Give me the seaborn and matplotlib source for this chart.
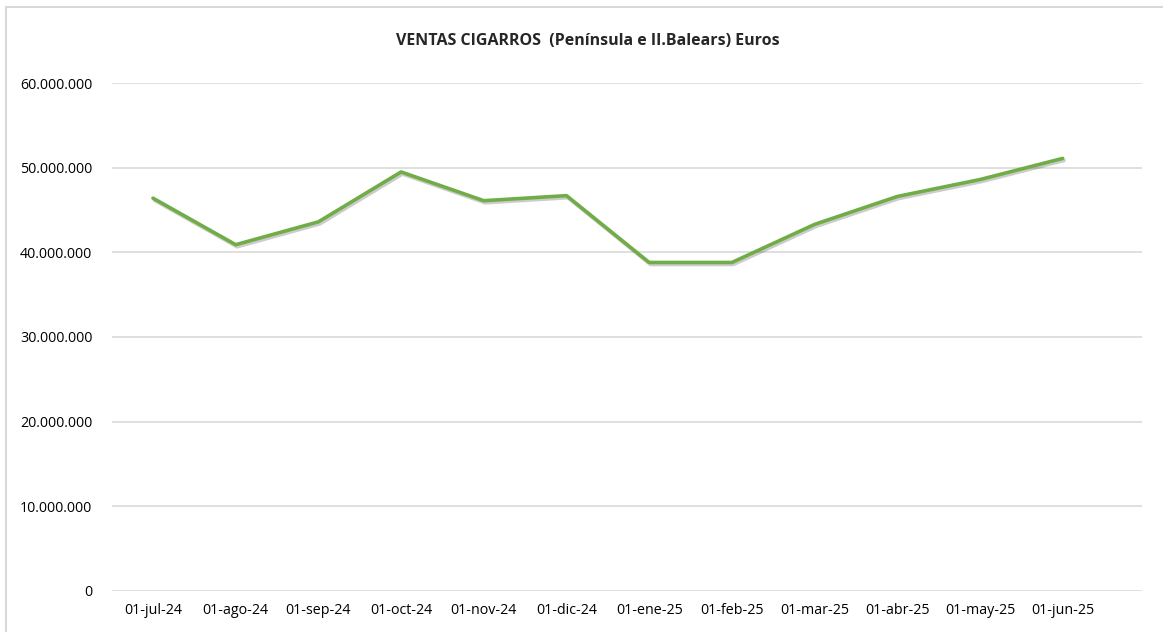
import numpy as np
import pandas as pd
import seaborn as sns
import matplotlib
matplotlib.use("Agg")
import matplotlib.pyplot as plt
import matplotlib.patheffects as pe
from matplotlib.ticker import FuncFormatter, MultipleLocator

# %% data

meses = ['01-jul-24', '01-ago-24', '01-sep-24', '01-oct-24', '01-nov-24', '01-dic-24',
         '01-ene-25', '01-feb-25', '01-mar-25', '01-abr-25', '01-may-25', '01-jun-25']

ventas = [46.4e6, 40.9e6, 43.6e6, 49.5e6, 46.1e6, 46.7e6,
          38.8e6, 38.8e6, 43.3e6, 46.6e6, 48.6e6, 51.1e6]

df = pd.DataFrame({"mes": meses, "ventas": ventas})

# %% plot

sns.set_style("white")
plt.rcParams['font.family'] = ['Open Sans', 'DejaVu Sans']

fig = plt.figure(figsize=(11.63, 6.32), dpi=100)
ax = fig.add_axes([0.096, 0.0653, 0.886, 0.8032])

sns.lineplot(x="mes", y="ventas", data=df, sort=False, color="#70AD47",
             linewidth=2.6, ax=ax,
             path_effects=[pe.SimpleLineShadow(offset=(1, -1.5), alpha=0.2,
                                               shadow_color="#000000"),
                           pe.Normal()])

ax.set_xlim(-0.5, 11.96)
ax.set_ylim(0, 60e6)
ax.yaxis.set_major_locator(MultipleLocator(10e6))
ax.yaxis.set_major_formatter(FuncFormatter(lambda v, p: f"{int(v):,}".replace(",", ".")))
ax.grid(axis="y", color="#D9D9D9", linewidth=1.2)
ax.set_axisbelow(True)
for s in ax.spines.values():
    s.set_visible(False)
ax.tick_params(axis="both", length=0, labelsize=10.3, colors="#000000")
ax.tick_params(axis="y", pad=14)
ax.tick_params(axis="x", pad=9)
ax.set_xlabel("")
ax.set_ylabel("")

fig.text(0.505, 0.935, "VENTAS CIGARROS  (Península e II.Balears) Euros",
         ha="center", va="center", fontsize=11.5, fontweight="bold")

# chart frame
fig.patches.append(plt.Rectangle((5.5 / 1163, -0.05), 1.2, 1 - 7 / 632 + 0.05,
                                 transform=fig.transFigure, fill=False,
                                 edgecolor="#D9D9D9", linewidth=1.5))

fig.savefig("out.png", dpi=100)
